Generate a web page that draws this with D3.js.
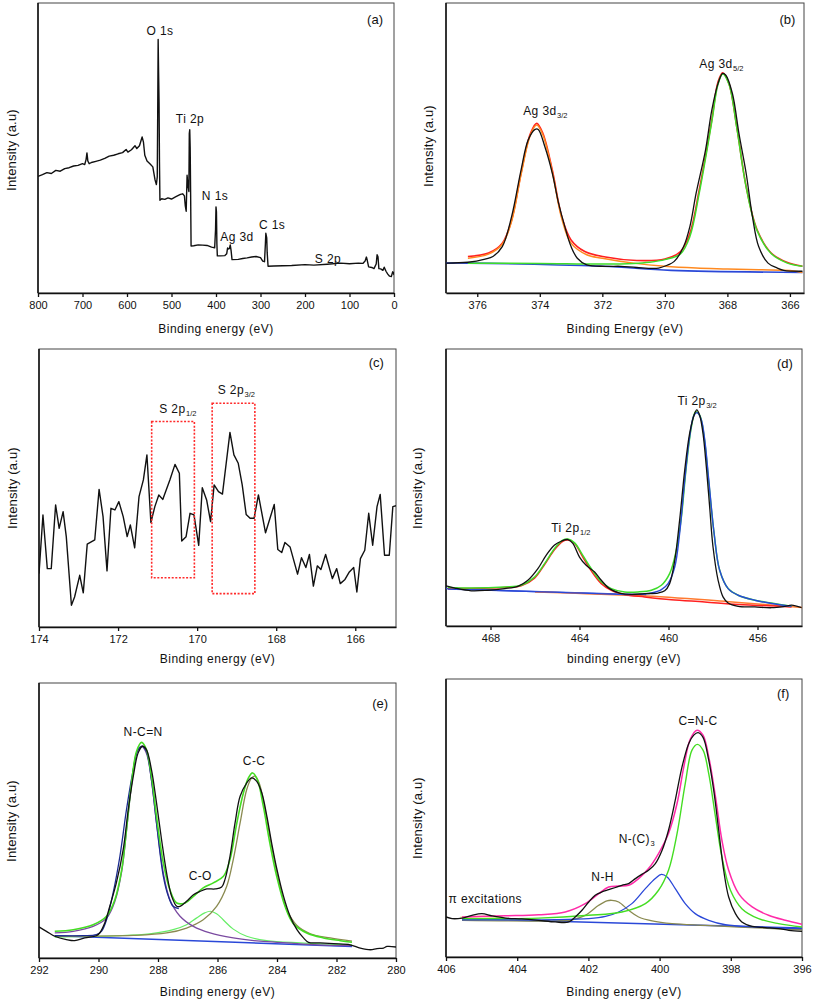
<!DOCTYPE html>
<html><head><meta charset="utf-8">
<script src="https://cdn.jsdelivr.net/npm/d3@7"></script>
<style>
body{margin:0;background:#fff;}
text{font-family:"Liberation Sans",Arial,sans-serif;fill:#111;}
</style>
</head><body>
<svg id="chart" width="813" height="1001"></svg>
<script>
// ---------------- DATA (binding energy eV, relative intensity 0-100 of frame) ----------------
// (a) survey
const aTicks = [800,700,600,500,400,300,200,100,0];
const aSurvey = [[800,40.2],[790,40.8],[780,41.5],[770,41.2],[760,42.3],[750,42.0],[740,42.9],[730,43.2],[720,43.8],[710,44.0],[700,44.6],[695,44.3],[692,46],[690,48.3],[688,45.5],[685,44.6],[680,45.0],[670,45.4],[660,45.8],[650,46.4],[640,47.2],[630,47.5],[620,48.0],[610,48.4],[602,49.5],[598,48.6],[590,49.4],[582,50.8],[578,49.8],[572,50.8],[566,53.8],[563,52],[560,47.5],[555,45.5],[548,44.5],[542,43.5],[537,39],[534,37.4],[532,40],[531,62],[530,87.4],[529,76],[528,66],[527,45],[526,32],[522,32.5],[515,32.3],[508,32.8],[500,32.4],[490,33.2],[480,34.0],[475,34.2],[471,33.5],[469,30],[467,28.2],[465,40.6],[463,37],[461,35],[460,55],[459,56.3],[458,50],[457,34],[456,16.2],[450,16.3],[440,16.6],[430,16.5],[420,16.4],[410,15.8],[403,15.6],[401,22],[400,29.7],[399,28],[398,17],[397,12.8],[390,12.8],[380,12.9],[376,13.5],[374,15.5],[372,15.2],[370,15.3],[368,16.6],[366,14.5],[364,11.5],[350,11.6],[340,11.9],[330,12.1],[320,12.4],[310,12.6],[300,12.2],[295,11],[291,10.8],[289,17],[288,20.6],[286,19],[285,14],[283,9.2],[270,9.3],[250,9.4],[230,9.5],[200,9.8],[180,9.6],[150,9.9],[120,10.3],[100,10.1],[80,10.3],[70,10.2],[65,11.0],[62,12.4],[60,11.2],[57,9.0],[50,8.8],[45,8.4],[40,10],[38,13.2],[36,12.5],[34,8.4],[30,8.3],[25,7.8],[22,8.9],[18,7.5],[14,6.5],[10,5.8],[6,5.7],[3,7.3],[1,7.0],[0,6.2]];
const aLabels = [["O 1s",526,89.1],["Ti 2p",458.5,58.7],["N 1s",402.3,32.2],["Ag 3d",352.8,18.1],["C 1s",274,22.2],["S 2p",148.4,10.4]];

// (b) Ag 3d
const bTicks = [376,374,372,370,368,366];
const bBlack = [[377,10.3],[376.3,10.6],[375.75,11.7],[375.5,12.6],[375.2,16],[374.9,26.4],[374.6,42.4],[374.37,52.8],[374.15,56.4],[374.05,56.4],[373.84,50.5],[373.6,41.3],[373.4,31],[373.2,22.9],[373.0,16],[372.8,12],[372.5,9.7],[371.9,9.2],[371.4,9.2],[370.9,8.8],[370.2,8.6],[369.9,9.7],[369.7,10.9],[369.4,16],[369.2,22.9],[369.0,34.4],[368.7,49.3],[368.5,63],[368.3,72.2],[368.15,75.7],[368.05,75.1],[367.84,68.8],[367.63,55],[367.4,41.3],[367.2,26.4],[367.0,16],[366.7,10.3],[366.4,8.6],[366.2,7.8],[365.6,7.5]];
const bEnvelope = [[376.3,12.6],[375.64,13.8],[375.2,17.2],[374.9,25.2],[374.6,41.3],[374.3,55],[374.1,58.5],[373.9,55],[373.6,42.4],[373.3,26.4],[373.0,18.3],[372.56,14.3],[371.9,12.4],[370.9,11.2],[370.0,11.7],[369.5,14.3],[369.2,20.6],[368.9,35.6],[368.5,59.6],[368.3,72.8],[368.15,75.9],[367.95,72.2],[367.7,57.3],[367.4,36.7],[367.05,21.8],[366.6,13.8],[366.1,10.6],[365.6,9.2]];
const bFit32 = [[376.3,12],[375.64,13.4],[375.2,16.8],[374.9,24.8],[374.6,40.8],[374.3,54.5],[374.1,57.9],[373.9,54.5],[373.6,41.8],[373.3,25.8],[373.0,17.2],[372.5,13.2],[372.0,12],[371.0,10.3],[370.0,9.2],[369.0,8.6],[368.0,8.3],[367.0,8.0],[366.0,7.8],[365.6,7.1]];
const bFit52 = [[376.3,10.3],[374,10.2],[372,10],[371,10.2],[370.5,10.6],[370,11.5],[369.5,13.5],[369.2,19.5],[368.9,34.5],[368.5,59],[368.3,72],[368.15,75.5],[367.95,72],[367.7,57],[367.4,36.5],[367.05,21.5],[366.6,13.6],[366.1,10.4],[365.6,9.2]];
const bBaseline = [[377,10.3],[376.3,10.3],[372,9.2],[369.8,7.8],[365.6,7.1]];

// (c) S 2p
const cTicks = [174,172,170,168,166];
const cSpectrum = [[174.0,19.2],[173.9,40.3],[173.79,21.0],[173.69,21.0],[173.58,43.9],[173.49,35.5],[173.39,41.5],[173.31,32.5],[173.18,7.8],[173.1,10.8],[172.97,18.6],[172.88,12.3],[172.78,29.8],[172.59,31.3],[172.48,49.5],[172.38,39.7],[172.28,20.2],[172.18,42.7],[172.08,42.1],[171.98,45.1],[171.87,39.7],[171.77,32.5],[171.69,36.7],[171.58,28.5],[171.47,46.9],[171.36,52.9],[171.27,61.9],[171.17,37.6],[171.07,43.3],[170.97,47.5],[170.87,45.9],[170.69,52.9],[170.56,58.5],[170.45,55.3],[170.39,30.9],[170.28,32.5],[170.18,40.9],[170.08,40.3],[169.96,29.4],[169.87,50.1],[169.76,45.7],[169.66,37.9],[169.57,51.1],[169.46,48.7],[169.36,47.8],[169.17,70.0],[169.07,61.9],[168.96,58.9],[168.86,51.1],[168.76,40.5],[168.66,39.1],[168.56,39.1],[168.45,47.5],[168.27,33.9],[168.05,44.1],[167.96,27.9],[167.86,26.8],[167.78,30.4],[167.65,28.8],[167.46,19.0],[167.36,24.9],[167.25,21.4],[167.16,26.1],[167.06,14.7],[166.96,22.0],[166.87,20.7],[166.75,26.1],[166.58,17.4],[166.47,21.0],[166.38,15.6],[166.26,17.1],[166.15,19.8],[166.04,21.4],[165.96,12.6],[165.87,24.6],[165.76,27.6],[165.66,40.9],[165.56,29.4],[165.45,43.3],[165.37,47.7],[165.26,25.8],[165.14,25.8],[165.05,43.3],[164.97,43.6]];
const cBoxes = [[171.15,170.07,17.7,73.9],[169.62,168.54,12.0,80.5]];

// (d) Ti 2p
const dTicks = [468,464,460,456];
const dBlack = [[470.0,14.5],[469.6,13.7],[468.87,12.7],[468.12,12.9],[467.37,13.5],[466.77,14.3],[466.32,16.5],[465.87,20.7],[465.5,25.5],[465.12,29.2],[464.82,30.6],[464.52,31.2],[464.3,29.8],[464.0,24.9],[463.7,21.9],[463.32,19.5],[463.02,16.5],[462.65,13.5],[462.2,11.9],[461.67,11.4],[461.07,11.7],[460.47,11.9],[460.17,12.7],[459.95,15.3],[459.72,23.7],[459.5,38.2],[459.27,56.3],[459.05,69.5],[458.85,76.1],[458.73,78],[458.6,76.1],[458.45,69.5],[458.3,57.5],[458.15,43],[458.0,28.6],[457.77,16.5],[457.55,10.5],[457.32,8.3],[456.87,7.1],[456.12,6.9],[455.37,6.6],[454.77,7.1],[454.47,7.5],[454.02,6.6]];
const dEnvelope = [[469.92,13.9],[468.87,13.7],[467.37,14.1],[466.62,14.7],[466.02,17.7],[465.57,22.5],[465.12,28],[464.75,31],[464.52,31.4],[464.22,30],[463.85,25.5],[463.47,20.7],[463.02,15.9],[462.57,13.5],[461.97,12.3],[461.37,12.3],[460.77,12.9],[460.32,14.7],[459.95,18.9],[459.65,27.3],[459.42,39.4],[459.2,57.5],[458.97,71.9],[458.79,77.3],[458.6,76.1],[458.4,68.3],[458.2,52.7],[457.95,33.4],[457.7,20.1],[457.32,13.5],[456.87,11.1],[456.12,9.3],[455.37,8.3],[454.47,7.1]];
const dFit12 = [[469.92,13.5],[467.37,13.9],[466.62,14.5],[466.02,17.3],[465.57,22.2],[465.12,27.6],[464.75,30.6],[464.52,31],[464.22,29.8],[463.85,24.9],[463.47,19.9],[463.02,15.3],[462.57,12.9],[461.97,11.4],[461.07,10.5],[459.87,9.5],[458.37,8.7],[456.87,7.8],[454.47,6.9]];
const dFit32 = [[469.92,13.3],[466.0,12.4],[462.12,11.4],[461.37,11.4],[460.77,11.9],[460.32,13.1],[460.02,15.3],[459.72,21.3],[459.5,33.4],[459.27,52.7],[459.05,68.3],[458.85,76.1],[458.7,77],[458.52,74.3],[458.37,67.1],[458.19,52.7],[457.95,33.4],[457.7,20.1],[457.32,13.5],[456.87,11.1],[456.12,9.3],[455.37,8.1],[454.47,7.1]];
const dBaselineA = [[470.0,13.5],[465.0,12.2],[461.0,11.2]];
const dBaselineB = [[466.0,12.3],[461.0,10.8],[457.0,8.6],[454.0,6.7]];

// (e) C 1s
const eTicks = [292,290,288,286,284,282,280];
const eBlack = [[292.0,11.3],[291.75,9.7],[291.47,7.9],[291.08,6.7],[290.8,6.3],[290.46,7.3],[290.07,8.1],[289.96,9.1],[289.79,12.7],[289.62,18.8],[289.4,27.3],[289.17,39.4],[289.0,53.9],[288.83,66.1],[288.67,74.5],[288.52,77],[288.39,75.8],[288.22,68.5],[288.05,56.4],[287.88,43],[287.71,30.9],[287.54,22.4],[287.37,18.8],[287.26,18.8],[287.04,20.6],[286.81,23],[286.59,24.2],[286.36,25.1],[286.08,25.1],[285.86,25.8],[285.75,28.5],[285.58,37],[285.41,49.1],[285.24,58.8],[285.02,63.6],[284.85,65.5],[284.68,64.2],[284.51,60],[284.34,51.5],[284.18,41.8],[284.0,32.1],[283.78,22.4],[283.56,15.2],[283.33,10.3],[283.11,7.3],[282.94,5.7],[282.55,5.5],[282.1,5.2],[281.54,4.8],[281.2,3.6],[280.86,3],[280.64,3.4],[280.42,3.6],[280.3,4.2],[280.0,4]];
const eEnvelope = [[291.47,9.7],[290.85,10.3],[290.18,12.1],[289.73,15.2],[289.45,21.2],[289.22,32.1],[289.06,46.7],[288.89,63.6],[288.72,75.2],[288.55,78.4],[288.39,75.8],[288.22,66.1],[288.05,51.5],[287.82,34.5],[287.6,24.8],[287.37,20],[287.09,20],[286.81,22.4],[286.48,25.5],[286.14,27.3],[285.8,29.7],[285.58,35.8],[285.35,49.1],[285.13,60],[284.96,65.5],[284.82,67.3],[284.66,64.8],[284.46,55.2],[284.24,41.8],[284.01,29.7],[283.73,18.8],[283.45,12.5],[283.0,9.1],[282.44,7.3],[281.87,6.3],[281.48,5.7]];
const eNCN = [[291.47,9.1],[290.85,9.7],[290.18,11.5],[289.73,14.5],[289.45,20.6],[289.22,31.5],[289.06,46.1],[288.89,63],[288.72,74.5],[288.55,77],[288.39,74.5],[288.22,64.8],[288.05,49.1],[287.82,30.9],[287.6,21.2],[287.26,15.2],[286.81,11.5],[286.25,9.1],[285.47,7.3],[284.57,6.1],[283.67,5.5],[282.66,4.8],[281.48,4.5]];
const eNCNfit = [[291.47,8.1],[290.5,8.1],[290.07,8.5],[289.9,9.7],[289.73,13.9],[289.51,23.6],[289.28,37],[289.06,53.9],[288.83,68.5],[288.67,75.8],[288.52,77],[288.39,75.2],[288.22,64.8],[288.05,49.1],[287.82,29.7],[287.65,22.4],[287.49,18.8],[287.3,18.0]];
const eCO = [[291.47,7.6],[289.4,8.1],[288.28,8.8],[287.49,10.3],[287.04,12.1],[286.71,14.5],[286.43,16.4],[286.24,17],[286.03,16.1],[285.81,13.9],[285.47,10.5],[285.02,7.9],[284.35,6.3],[283.22,5.5],[281.48,4.8]];
const eCC = [[291.47,7.9],[288.83,8.2],[287.71,9.1],[287.04,10.9],[286.48,13.9],[286.03,18.8],[285.69,26.1],[285.47,35.8],[285.24,49.1],[285.02,61.2],[284.85,65.5],[284.74,66.1],[284.6,63.6],[284.4,53.9],[284.18,40.6],[283.95,28.5],[283.67,17.6],[283.33,11.8],[282.88,8.8],[282.21,7.3],[281.48,6.1]];
const eBaseline = [[291.47,8.1],[281.48,4.2]];

// (f) N 1s
const fTicks = [406,404,402,400,398,396];
const fBlack = [[406,14.4],[405.83,13.8],[405.55,14],[405.27,15],[404.99,15.6],[404.71,14.8],[404.33,14],[403.87,13.7],[403.4,13.2],[402.93,12.6],[402.55,12.6],[402.37,14.4],[402.18,16.8],[401.99,19.8],[401.81,22.2],[401.62,23.4],[401.43,24.2],[401.24,25],[401.06,25.8],[400.87,26.4],[400.68,28.2],[400.49,29.8],[400.31,31.2],[400.12,33.6],[399.93,38.4],[399.75,45.6],[399.56,56.4],[399.37,68.4],[399.18,76.8],[399.04,79.8],[398.92,80.7],[398.78,79],[398.62,70.8],[398.48,60],[398.34,45.6],[398.2,31.2],[398.06,21.6],[397.87,15.6],[397.69,12.6],[397.4,11],[397.03,10.6],[396.66,10.2],[396.37,9.6],[396.0,9.2]];
const fEnvelope = [[405.55,14.4],[404.33,14.8],[403.4,15.2],[402.65,16.2],[402.09,19.2],[401.71,22.8],[401.43,25.2],[401.15,25.5],[400.87,25.8],[400.59,28.2],[400.31,31.8],[400.03,37.2],[399.75,44.4],[399.51,55.2],[399.32,68.4],[399.14,78.3],[398.95,81.6],[398.78,79.8],[398.62,72],[398.43,57.6],[398.25,42],[398.06,31.2],[397.78,22.8],[397.4,18],[396.94,15],[396.47,13.2],[396.0,11.8]];
const fCNC = [[405.55,13.8],[403.4,14],[401.99,15],[401.06,16.2],[400.4,19.2],[400.03,24],[399.75,31.2],[399.51,44.4],[399.28,62.4],[399.09,74.4],[398.94,76.5],[398.78,74.4],[398.62,66],[398.43,50.4],[398.25,36],[398.01,24],[397.69,17.4],[397.22,13.8],[396.66,12],[396.0,10.8]];
const fNC3 = [[405.55,13.4],[402.93,13.4],[401.99,13.8],[401.52,14.6],[401.15,16.2],[400.78,19.2],[400.4,24.6],[400.12,28.2],[399.95,29.7],[399.79,28.8],[399.56,24.6],[399.28,19.2],[399.0,15.6],[398.62,13.2],[398.15,11.6],[397.31,10.8],[396.0,10.2]];
const fNH = [[405.55,13.2],[402.93,13],[402.46,13.4],[402.09,15],[401.71,18.6],[401.48,20.2],[401.34,20.4],[401.15,19.8],[400.87,16.8],[400.59,14.4],[400.21,13],[399.65,12],[398.72,11.4],[397.78,10.8],[396.0,9.8]];
const fPi = [[405.6,14.2],[405.0,14.6],[404.4,14.3]];
const fBaseline = [[405.55,13.8],[396.0,10.4]];

// ---------------- DRAWING ----------------
const svg = d3.select("#chart");
const FONT = '"Liberation Sans", Arial, sans-serif';

function panel(cfg){
  const x = d3.scaleLinear().domain(cfg.xDomain).range([cfg.left, cfg.right]);
  const y = d3.scaleLinear().domain([0,100]).range([cfg.bottom, cfg.top]);
  const g = svg.append("g");
  g.append("rect").attr("x",cfg.left).attr("y",cfg.top)
    .attr("width",cfg.right-cfg.left).attr("height",cfg.bottom-cfg.top)
    .attr("fill","none").attr("stroke","#444").attr("stroke-width",1);
  g.append("line").attr("x1",cfg.left).attr("x2",cfg.left).attr("y1",cfg.top).attr("y2",cfg.bottom)
    .attr("stroke","#111").attr("stroke-width",1.5);
  const ax = d3.axisBottom(x).tickValues(cfg.ticks).tickSize(4).tickSizeOuter(0).tickPadding(4).tickFormat(d3.format("d"));
  const axg = g.append("g").attr("transform",`translate(0,${cfg.bottom})`).call(ax);
  axg.select(".domain").attr("stroke","#111").attr("stroke-width",1.6);
  axg.selectAll(".tick line").attr("stroke","#111").attr("stroke-width",1.3);
  axg.selectAll(".tick text").attr("font-size",11).attr("font-family",FONT).attr("fill","#222");
  // titles
  g.append("text").attr("x",(cfg.left+cfg.right)/2).attr("y",cfg.bottom+cfg.xTitleDy)
    .attr("text-anchor","middle").attr("font-size",12).attr("letter-spacing",0.5).text(cfg.xTitle);
  g.append("text").attr("transform",`translate(${cfg.yTitleX},${cfg.yTitleY}) rotate(-90)`)
    .attr("text-anchor","middle").attr("font-size",13).attr("letter-spacing",0.2).text("Intensity (a.u)");
  // clip
  const cid = "clip"+cfg.id;
  svg.append("clipPath").attr("id",cid).append("rect")
    .attr("x",cfg.left).attr("y",cfg.top).attr("width",cfg.right-cfg.left).attr("height",cfg.bottom-cfg.top);
  const lg = g.append("g").attr("clip-path",`url(#${cid})`);
  cfg.series.forEach(s=>{
    const line = d3.line().x(d=>x(d[0])).y(d=>y(d[1]))
      .curve(s.smooth ? d3.curveCatmullRom.alpha(0.5) : d3.curveLinear);
    lg.append("path").datum(s.data).attr("d",line).attr("fill","none")
      .attr("stroke",s.color).attr("stroke-width",s.width||1.3)
      .attr("stroke-linejoin","round").attr("opacity",s.opacity||1);
  });
  (cfg.boxes||[]).forEach(b=>{
    g.append("rect").attr("x",x(b[0])).attr("y",y(b[3]))
      .attr("width",x(b[1])-x(b[0])).attr("height",y(b[2])-y(b[3]))
      .attr("fill","none").attr("stroke","#ff2a2a").attr("stroke-width",1.6).attr("stroke-dasharray","2,1.6");
  });
  (cfg.labels||[]).forEach(l=>{
    const t = g.append("text").attr("x",x(l.be)).attr("y",y(l.i))
      .attr("text-anchor",l.anchor||"middle").attr("font-size",l.size||12).attr("letter-spacing",0.4);
    t.append("tspan").text(l.text);
    if(l.sub){ t.append("tspan").attr("font-size",7.5).attr("letter-spacing",0).attr("dy",3).attr("dx",0.5).text(l.sub); }
  });
  g.append("text").attr("x",x(cfg.tag[1])).attr("y",y(cfg.tag[2]))
    .attr("text-anchor","middle").attr("font-size",13).text(cfg.tag[0]);
}

const K = "#111";
panel({id:"a",left:38,right:394,top:3,bottom:293,xDomain:[800,0],ticks:aTicks,
  xTitle:"Binding energy (eV)",xTitleDy:40,yTitleX:16,yTitleY:150,
  series:[{data:aSurvey,color:K,width:1.4}],
  labels:aLabels.map(d=>({text:d[0],be:d[1],i:d[2]})),
  tag:["(a)",42.6,92.6]});

panel({id:"b",left:446,right:804,top:3,bottom:293,xDomain:[377,365.55],ticks:bTicks,
  xTitle:"Binding Energy (eV)",xTitleDy:40,yTitleX:433,yTitleY:146,
  series:[
    {data:bBaseline,color:"#2a48d8",width:1.6,smooth:true},
    {data:bEnvelope,color:"#ff2020",width:1.6,smooth:true},
    {data:bFit32,color:"#ff8a20",width:1.5,smooth:true},
    {data:bFit52,color:"#3ddc2a",width:1.5,smooth:true},
    {data:bBlack,color:K,width:1.3,smooth:true}],
  labels:[{text:"Ag 3d",sub:"3/2",be:374.53,i:61.5,anchor:"start"},{text:"Ag 3d",sub:"5/2",be:368.9,i:77.7,anchor:"start"}],
  tag:["(b)",366.08,92.6]});

panel({id:"c",left:39,right:396,top:349,bottom:627,xDomain:[174,164.97],ticks:cTicks,
  xTitle:"Binding energy (eV)",xTitleDy:36,yTitleX:17,yTitleY:488,
  series:[{data:cSpectrum,color:K,width:1.4}],
  boxes:cBoxes,
  labels:[{text:"S 2p",sub:"1/2",be:170.96,i:77.1,anchor:"start"},{text:"S 2p",sub:"3/2",be:169.48,i:83.7,anchor:"start"}],
  tag:["(c)",165.47,93.4]});

panel({id:"d",left:446,right:802,top:349,bottom:626,xDomain:[470,454],ticks:dTicks,
  xTitle:"binding energy (eV)",xTitleDy:37,yTitleX:422,yTitleY:488,
  series:[
    {data:dBaselineA,color:"#2a48d8",width:1.5,smooth:true},
    {data:dBaselineB,color:"#ff7a30",width:1.5,smooth:true},
    {data:dFit12,color:"#ff2020",width:1.5,smooth:true},
    {data:dEnvelope,color:"#3ddc2a",width:1.5,smooth:true},
    {data:dFit32,color:"#2a48d8",width:1.4,smooth:true},
    {data:dBlack,color:K,width:1.3,smooth:true}],
  labels:[{text:"Ti 2p",sub:"3/2",be:459.6,i:79.9,anchor:"start"},{text:"Ti 2p",sub:"1/2",be:465.27,i:34.1,anchor:"start"}],
  tag:["(d)",454.77,93.2]});

panel({id:"e",left:39,right:396,top:683,bottom:958,xDomain:[292,280],ticks:eTicks,
  xTitle:"Binding energy (eV)",xTitleDy:38,yTitleX:16,yTitleY:821,
  series:[
    {data:eBaseline,color:"#2a48d8",width:1.5,smooth:true},
    {data:eCO,color:"#66ee66",width:1.2,smooth:true},
    {data:eCC,color:"#8a8a50",width:1.3,smooth:true},
    {data:eNCN,color:"#7a4aa0",width:1.3,smooth:true},
    {data:eNCNfit,color:"#1a2a90",width:1.3,smooth:true},
    {data:eEnvelope,color:"#44dd22",width:1.6,smooth:true},
    {data:eBlack,color:K,width:1.3,smooth:true}],
  labels:[{text:"N-C=N",be:288.5,i:80.8},{text:"C-O",be:286.58,i:28.3},{text:"C-C",be:284.77,i:70.2}],
  tag:["(e)",280.53,90.8]});

panel({id:"f",left:446,right:802,top:679,bottom:957,xDomain:[406,396],ticks:fTicks,
  xTitle:"Binding energy (eV)",xTitleDy:39,yTitleX:422,yTitleY:818,
  series:[
    {data:fPi,color:"#f0e6a0",width:2,smooth:true},
    {data:fBaseline,color:"#2a48d8",width:1.5,smooth:true},
    {data:fNH,color:"#8a8a50",width:1.3,smooth:true},
    {data:fNC3,color:"#2a48d8",width:1.3,smooth:true},
    {data:fCNC,color:"#44dd22",width:1.4,smooth:true},
    {data:fEnvelope,color:"#ff2aa8",width:1.5,smooth:true},
    {data:fBlack,color:K,width:1.3,smooth:true}],
  labels:[{text:"C=N-C",be:398.92,i:83.6},{text:"N-(C)",sub:"3",be:401.15,i:41.0,anchor:"start"},{text:"N-H",be:401.6,i:27.4},{text:"π excitations",be:405.93,i:19.4,anchor:"start"}],
  tag:["(f)",396.53,93.2]});
</script>
</body></html>
